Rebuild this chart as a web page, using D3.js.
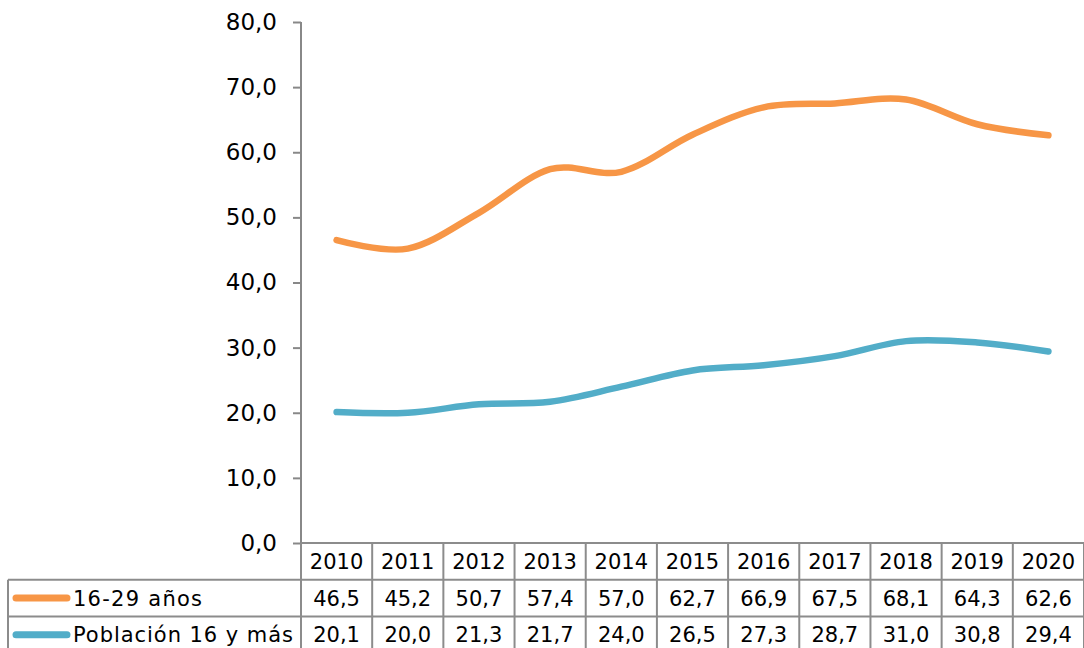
<!DOCTYPE html>
<html><head><meta charset="utf-8">
<script src="https://cdn.jsdelivr.net/npm/d3@7"></script>
<style>body{margin:0;background:#fff}svg{display:block;font-family:"DejaVu Sans",Verdana,sans-serif}</style>
</head><body><svg id="c" width="1084" height="648"></svg>
<script>
const years = ["2010","2011","2012","2013","2014","2015","2016","2017","2018","2019","2020"];
const seriesNames = ["16-29 años","Población 16 y más"];
const young = [46.5,45.2,50.7,57.4,57.0,62.7,66.9,67.5,68.1,64.3,62.6];
const total = [20.1,20.0,21.3,21.7,24.0,26.5,27.3,28.7,31.0,30.8,29.4];
const colors = ["#F79646","#52ADC8"];
const yTicks = [0,10,20,30,40,50,60,70,80];

(function(){
const svg = d3.select("#c");
const pL = 301, pR = 1084, pT = 22, pB = 543, rowH = 36.7, tableLeft = 8;
const fmt = v => v.toFixed(1).replace(".", ",");
const labelLen = [129, 220];

const x = d3.scaleBand().domain(years).range([pL, pR]);
const y = d3.scaleLinear().domain([0,80]).range([pB, pT]);

// y axis
const ax = svg.append("g").attr("transform", `translate(${pL},0)`)
  .call(d3.axisLeft(y).tickValues(yTicks).tickSize(8).tickPadding(16).tickFormat(fmt));
ax.select(".domain").attr("stroke","#888").attr("stroke-width",2).attr("d",`M0,${pT}V${pB}`);
ax.selectAll(".tick line").attr("stroke","#888").attr("stroke-width",2);
ax.selectAll(".tick text").attr("font-size",23).attr("fill","#000").attr("font-family","DejaVu Sans, Verdana, sans-serif");

// lines
const line = d3.line().x((d,i)=>x(years[i])+x.bandwidth()/2).y(d=>y(d)).curve(d3.curveCardinal.tension(0));
[young,total].forEach((s,k)=>{
  svg.append("path").attr("d", line(s)).attr("fill","none").attr("stroke",colors[k])
    .attr("stroke-width",6.5).attr("stroke-linecap","round").attr("stroke-linejoin","round");
});

// table
const g = svg.append("g").attr("stroke","#8c8c8c").attr("stroke-width",2);
g.append("line").attr("x1",pL).attr("x2",pR+2).attr("y1",pB).attr("y2",pB);
for (let r=1;r<=3;r++){
  g.append("line").attr("x1",tableLeft).attr("x2",pR+2).attr("y1",pB+r*rowH).attr("y2",pB+r*rowH);
}
g.append("line").attr("x1",tableLeft).attr("x2",tableLeft).attr("y1",pB+rowH).attr("y2",pB+3*rowH);
years.forEach(yr=>{
  g.append("line").attr("x1",x(yr)).attr("x2",x(yr)).attr("y1",pB).attr("y2",pB+3*rowH);
});
g.append("line").attr("x1",pR).attr("x2",pR).attr("y1",pB).attr("y2",pB+3*rowH);

const tf = 21;
svg.append("g").selectAll("text").data(years).join("text")
  .attr("x",d=>x(d)+x.bandwidth()/2).attr("y",pB+rowH/2).attr("dy","0.36em")
  .attr("text-anchor","middle").attr("font-size",tf).text(d=>d);
[young,total].forEach((s,k)=>{
  const cy = pB+(k+1.5)*rowH;
  svg.append("line").attr("x1",16).attr("x2",67).attr("y1",cy).attr("y2",cy)
    .attr("stroke",colors[k]).attr("stroke-width",7).attr("stroke-linecap","round");
  svg.append("text").attr("x",73).attr("y",cy).attr("dy","0.36em").attr("font-size",tf)
    .attr("textLength",labelLen[k]).attr("lengthAdjust","spacing").text(seriesNames[k]);
  svg.append("g").selectAll("text").data(s).join("text")
    .attr("x",(d,i)=>x(years[i])+x.bandwidth()/2).attr("y",cy).attr("dy","0.36em")
    .attr("text-anchor","middle").attr("font-size",tf).text(d=>fmt(d));
});
})();
</script></body></html>
